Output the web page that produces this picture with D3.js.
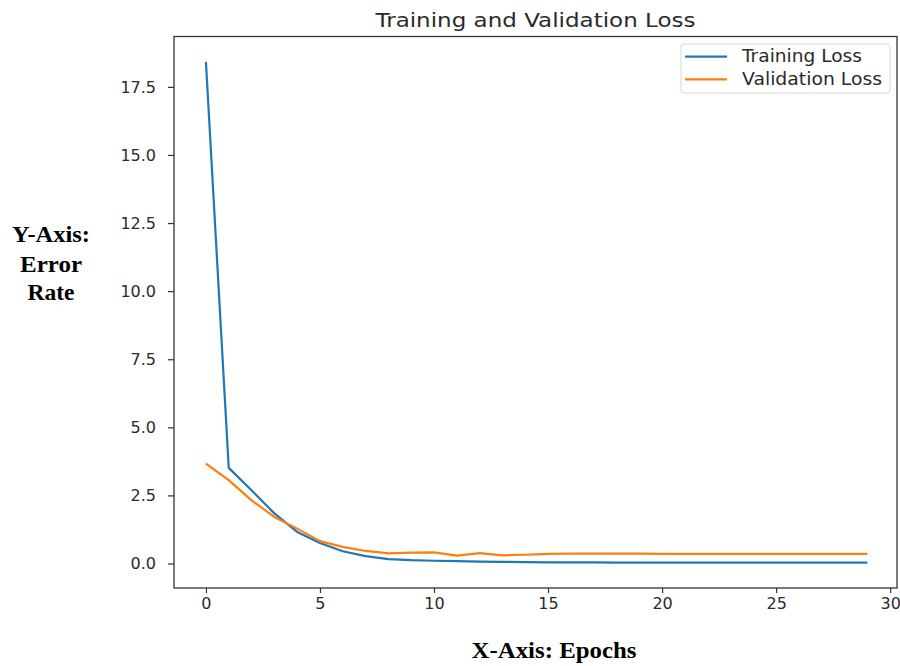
<!DOCTYPE html>
<html>
<head>
<meta charset="utf-8">
<script src="https://cdn.jsdelivr.net/npm/d3@7"></script>
<style>
  body { margin: 0; background: #fff; }
  #chartArea svg { display: block; }
</style>
</head>
<body>
<div id="chartArea"></div>
<script>
// data
var epochs = d3.range(0, 30);
var trainingLoss = [18.42, 3.51, 2.69, 1.84, 1.16, 0.75, 0.45, 0.27, 0.16, 0.12,
                    0.10, 0.09, 0.07, 0.06, 0.05, 0.04, 0.04, 0.04, 0.03, 0.03,
                    0.03, 0.03, 0.03, 0.03, 0.03, 0.03, 0.03, 0.03, 0.03, 0.03];
var validationLoss = [3.67, 3.06, 2.32, 1.71, 1.28, 0.82, 0.61, 0.46, 0.37, 0.40,
                      0.41, 0.29, 0.38, 0.30, 0.32, 0.35, 0.36, 0.36, 0.36, 0.36,
                      0.35, 0.35, 0.35, 0.35, 0.35, 0.35, 0.35, 0.35, 0.35, 0.35];
var xTicks = [0, 5, 10, 15, 20, 25, 30];
var yTicks = [0, 2.5, 5, 7.5, 10, 12.5, 15, 17.5];
var seriesNames = ["Training Loss", "Validation Loss"];
var seriesColors = ["#1f77b4", "#ff7f0e"];

var W = 900, H = 666;
// plot frame (window.top is reserved, so plot* names)
var plotLeft = 174, plotRight = 897, plotTop = 36.5, plotBottom = 588;

var svg = d3.select("#chartArea").append("svg")
    .attr("width", W)
    .attr("height", H);

//scales
var x = d3.scaleLinear().domain([-1.4, 30.3]).range([plotLeft, plotRight]);
var y = d3.scaleLinear().domain([-0.9, 19.35]).range([plotBottom, plotTop]);

//axes
var xAxis = svg.append("g")
    .attr("transform", "translate(0," + plotBottom + ")")
    .call(d3.axisBottom(x).tickValues(xTicks).tickSize(5).tickPadding(5).tickFormat(d3.format("d")));
var yAxis = svg.append("g")
    .attr("transform", "translate(" + plotLeft + ",0)")
    .call(d3.axisLeft(y).tickValues(yTicks).tickSize(6).tickPadding(12).tickFormat(d3.format(".1f")));

[xAxis, yAxis].forEach(function (g) {
    g.select(".domain").remove();
    g.selectAll(".tick line").attr("stroke", "#333").attr("stroke-width", 1.2);
    g.selectAll(".tick text")
        .attr("fill", "#2a2a2a")
        .style("font-family", "DejaVu Sans")
        .style("font-size", "16px");
});

//frame around the plot
svg.append("rect")
    .attr("x", plotLeft)
    .attr("y", plotTop)
    .attr("width", plotRight - plotLeft)
    .attr("height", plotBottom - plotTop)
    .attr("fill", "none")
    .attr("stroke", "#333")
    .attr("stroke-width", 1.3);

//lines
var line = d3.line()
    .x(function (d, i) { return x(epochs[i]); })
    .y(function (d) { return y(d); });

[trainingLoss, validationLoss].forEach(function (series, k) {
    svg.append("path")
        .datum(series)
        .attr("fill", "none")
        .attr("stroke", seriesColors[k])
        .attr("stroke-width", 2.2)
        .attr("stroke-linejoin", "round")
        .attr("d", line);
});

//title
svg.append("text")
    .attr("x", (plotLeft + plotRight) / 2)
    .attr("y", 27)
    .attr("text-anchor", "middle")
    .attr("fill", "#2a2a2a")
    .attr("textLength", 320)
    .attr("lengthAdjust", "spacingAndGlyphs")
    .style("font-family", "DejaVu Sans")
    .style("font-size", "19px")
    .text("Training and Validation Loss");

//legend
var legend = svg.append("g");
legend.append("rect")
    .attr("x", 681)
    .attr("y", 44)
    .attr("width", 209)
    .attr("height", 49)
    .attr("rx", 3)
    .attr("fill", "#fff")
    .attr("stroke", "#d6d6d6");
seriesNames.forEach(function (name, k) {
    var ly = 56.7 + k * 22.6;
    legend.append("line")
        .attr("x1", 685).attr("x2", 727)
        .attr("y1", ly).attr("y2", ly)
        .attr("stroke", seriesColors[k])
        .attr("stroke-width", 2.2);
    legend.append("text")
        .attr("x", 742)
        .attr("y", ly + 5.5)
        .attr("fill", "#2a2a2a")
        .attr("textLength", k == 0 ? 120 : 140)
        .attr("lengthAdjust", "spacingAndGlyphs")
        .style("font-family", "DejaVu Sans")
        .style("font-size", "17px")
        .text(name);
});

//axis labels (bold serif, as pasted into the figure)
var yLabel = [["Y-Axis:", 241.7, 78], ["Error", 271.7, 62], ["Rate", 300, 47]];
yLabel.forEach(function (l) {
    svg.append("text")
        .attr("x", 51)
        .attr("y", l[1])
        .attr("text-anchor", "middle")
        .attr("fill", "#000")
        .attr("textLength", l[2])
        .attr("lengthAdjust", "spacingAndGlyphs")
        .style("font-family", "Liberation Serif")
        .style("font-weight", "bold")
        .style("font-size", "23px")
        .text(l[0]);
});

svg.append("text")
    .attr("x", 554)
    .attr("y", 658)
    .attr("text-anchor", "middle")
    .attr("fill", "#000")
    .attr("textLength", 165)
    .attr("lengthAdjust", "spacingAndGlyphs")
    .style("font-family", "Liberation Serif")
    .style("font-weight", "bold")
    .style("font-size", "24px")
    .text("X-Axis: Epochs");
</script>
</body>
</html>
